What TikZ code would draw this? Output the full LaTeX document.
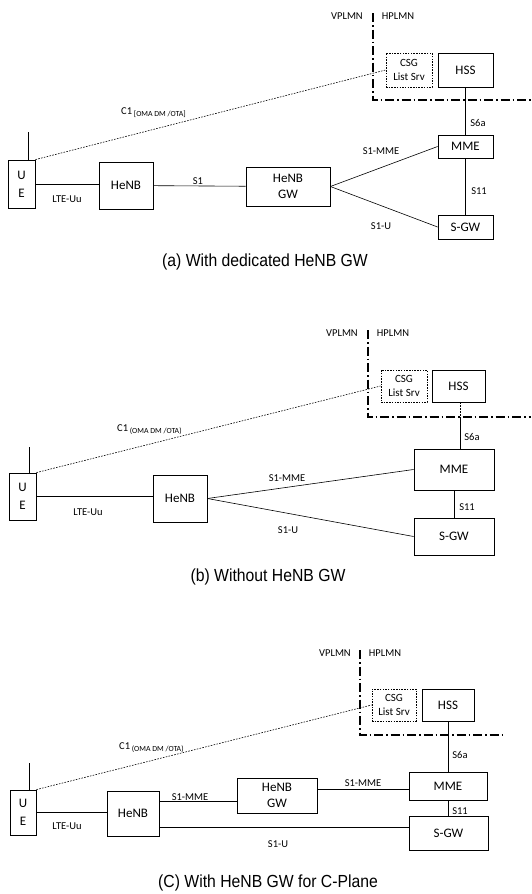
\documentclass[tikz,border=0pt]{standalone}
\usepackage{fontspec}
\newfontfamily\labfont{Carlito}
\newfontfamily\capfont{Liberation Sans}
\newcommand{\subtxt}[1]{\raisebox{-2pt}{\fontsize{7.8}{8}\selectfont #1}}
\begin{document}
\begin{tikzpicture}[x=1pt,y=-1pt,
  box/.style={draw,line width=0.8pt,inner sep=0pt,align=center,font=\labfont\fontsize{13}{16}\selectfont},
  csgbox/.style={draw,line width=0.7pt,dash pattern=on 1.5pt off 1.2pt,inner sep=0pt,align=center,font=\labfont\fontsize{11}{14}\selectfont},
  lab/.style={font=\labfont\fontsize{10.5}{12}\selectfont,inner sep=0pt},
  conn/.style={line width=0.6pt},
  cone/.style={line width=0.6pt,dash pattern=on 1.6pt off 1.3pt},
  border/.style={line width=1.1pt,dash pattern=on 9pt off 3pt on 1.5pt off 3pt},
  caption/.style={font=\capfont\fontsize{17.5}{20}\selectfont,xscale=0.9,inner sep=0pt}]
\useasboundingbox[fill=white] (0,0) rectangle (531,894);

% ---------------- Panel (a) ----------------
\node[box,minimum width=27pt,minimum height=48pt] (ueA) at (21.5,184) {U\\[2pt]E};
\node[box,minimum width=54pt,minimum height=47pt] (henbA) at (126,185.5) {HeNB};
\node[box,minimum width=84pt,minimum height=39pt] (gwA) at (288,186.5) {HeNB\\GW};
\node[box,minimum width=55pt,minimum height=23pt] (mmeA) at (465.5,146.5) {MME};
\node[box,minimum width=55pt,minimum height=24pt] (sgwA) at (465.5,227) {S-GW};
\node[box,minimum width=55pt,minimum height=34pt] (hssA) at (465.5,70) {HSS};
\node[csgbox,minimum width=46pt,minimum height=34pt] (csgA) at (409,70) {CSG\\List Srv};

\draw[conn] ([xshift=-7pt]ueA.north east) -- ++(0,-28);
\draw[conn] (ueA.east) -- (ueA.east -| henbA.west);
\draw[conn] (henbA) -- (gwA);
\draw[conn] (gwA.east) -- (mmeA.west);
\draw[conn] (gwA.east) -- (sgwA.west);
\draw[conn] (hssA.south) -- (mmeA.north);
\draw[conn] (mmeA.south) -- (sgwA.north);
\draw[cone] (ueA.north east) -- (csgA.west);
\draw[border] (373,13) -- (373,100) -- (531,100);

\node[lab] (vpA) at (347,16) {VPLMN};
\node[lab] (hpA) at (398,16) {HPLMN};
\node[lab] (ltA) at (67,199) {LTE-Uu};
\node[lab] (s1A) at (198,181) {S1};
\node[lab] (smA) at (381,151) {S1-MME};
\node[lab] (suA) at (381,226) {S1-U};
\node[lab] (s6A) at (478,123) {S6a};
\node[lab] (s11A) at (479,191) {S11};
\node[lab,anchor=west] (c1A) at (121,113) {C1\,\subtxt{[OMA DM /OTA]}};
\node[caption] (capA) at (265,262) {(a) With dedicated HeNB GW};

% ---------------- Panel (b) ----------------
\node[box,minimum width=27pt,minimum height=47pt] (ueB) at (22.5,496.5) {U\\[2pt]E};
\node[box,minimum width=54pt,minimum height=47pt] (henbB) at (180,498.5) {HeNB};
\node[box,minimum width=80pt,minimum height=41pt] (mmeB) at (454,469.5) {MME};
\node[box,minimum width=80pt,minimum height=37pt] (sgwB) at (454,536.5) {S-GW};
\node[box,minimum width=53pt,minimum height=32pt] (hssB) at (458.5,386) {HSS};
\node[csgbox,minimum width=46pt,minimum height=32pt] (csgB) at (404,386) {CSG\\List Srv};
\coordinate (bndB) at (460,417);

\draw[conn] ([xshift=-7pt]ueB.north east) -- ++(0,-26);
\draw[conn] (ueB.east) -- (ueB.east -| henbB.west);
\draw[conn] (henbB.east) -- (mmeB.west);
\draw[conn] (henbB.east) -- (sgwB.west);
\draw[cone] ([xshift=1.5pt]hssB.south) -- (bndB);
\draw[conn] (bndB) -- (bndB |- mmeB.north);
\draw[conn] (mmeB.south) -- (sgwB.north);
\draw[cone] (ueB.north east) -- (csgB.west);
\draw[border] (368,330) -- (368,417) -- (531,417);

\node[lab] (vpB) at (342,333) {VPLMN};
\node[lab] (hpB) at (393,333) {HPLMN};
\node[lab] (ltB) at (88,512) {LTE-Uu};
\node[lab] (smB) at (287,478) {S1-MME};
\node[lab] (suB) at (288,530) {S1-U};
\node[lab] (s6B) at (472,437) {S6a};
\node[lab] (s11B) at (467,507) {S11};
\node[lab,anchor=west] (c1B) at (117,430) {C1\,\subtxt{(OMA DM /OTA)}};
\node[caption] (capB) at (268,577) {(b) Without HeNB GW};

% ---------------- Panel (c) ----------------
\node[box,minimum width=26pt,minimum height=45pt] (ueC) at (23,812.5) {U\\[2pt]E};
\node[box,minimum width=52pt,minimum height=45pt] (henbC) at (133,813.5) {HeNB};
\node[box,minimum width=80pt,minimum height=35pt] (gwC) at (277,795.5) {HeNB\\GW};
\node[box,minimum width=78pt,minimum height=28pt] (mmeC) at (448,786) {MME};
\node[box,minimum width=79pt,minimum height=34pt] (sgwC) at (448.5,833) {S-GW};
\node[box,minimum width=52pt,minimum height=32pt] (hssC) at (448,705) {HSS};
\node[csgbox,minimum width=44pt,minimum height=32pt] (csgC) at (394,705) {CSG\\List Srv};

\draw[conn] ([xshift=-7pt]ueC.north east) -- ++(0,-27);
\draw[conn] (ueC.east) -- (ueC.east -| henbC.west);
\draw[conn] ([yshift=12pt]henbC.east) -- ([yshift=12pt]henbC.east -| gwC.west);
\draw[conn] ([yshift=6.5pt]gwC.east) -- ([yshift=6.5pt]gwC.east -| mmeC.west);
\draw[conn] ([yshift=-13.5pt]henbC.east) -- ([yshift=-13.5pt]henbC.east -| sgwC.west);
\draw[conn] (hssC.south) -- (mmeC.north);
\draw[conn] (mmeC.south) -- (mmeC.south |- sgwC.north);
\draw[cone] (ueC.north east) -- (csgC.west);
\draw[border] (360,650) -- (360,735) -- (505,735);

\node[lab] (vpC) at (335,653) {VPLMN};
\node[lab] (hpC) at (385,653) {HPLMN};
\node[lab] (ltC) at (67,826) {LTE-Uu};
\node[lab] (sm1C) at (190,797) {S1-MME};
\node[lab] (sm2C) at (363,783) {S1-MME};
\node[lab] (suC) at (278,844) {S1-U};
\node[lab] (s6C) at (460,755) {S6a};
\node[lab] (s11C) at (460,811) {S11};
\node[lab,anchor=west] (c1C) at (119,748) {C1\,\subtxt{(OMA DM /OTA)}};
\node[caption] (capC) at (268,883) {(C) With HeNB GW for C-Plane};
\end{tikzpicture}
\end{document}
